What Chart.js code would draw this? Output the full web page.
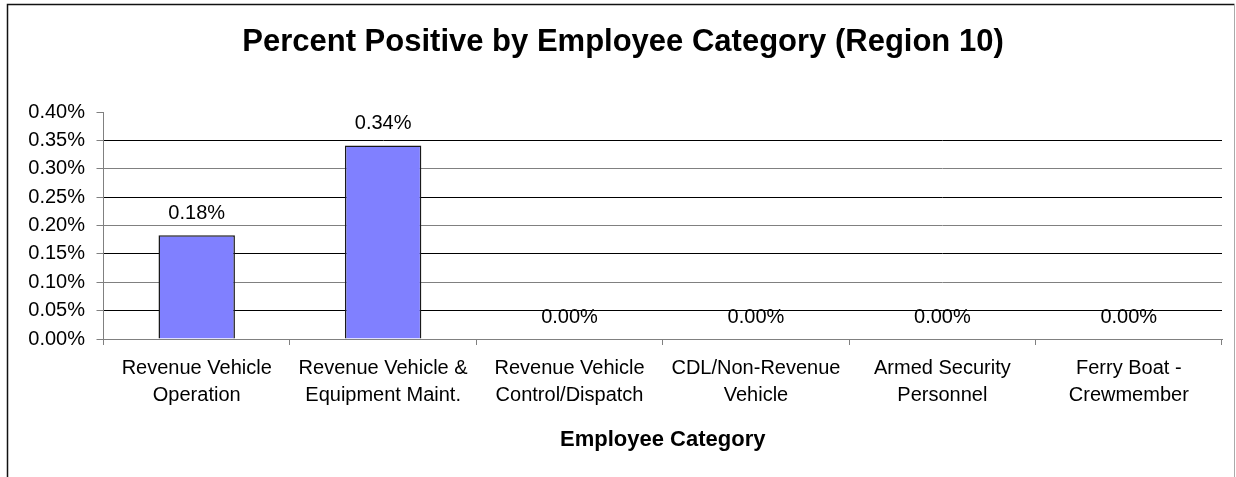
<!DOCTYPE html>
<html>
<head>
<meta charset="utf-8">
<script src="https://cdn.jsdelivr.net/npm/chart.js@4"></script>
<style>
  html, body { margin: 0; padding: 0; background: #fff; }
  #wrap { width: 1236px; height: 477px; }
</style>
</head>
<body>
<div id="wrap"><canvas id="chart" width="1236" height="477"></canvas></div>
<script>
// data
const categories = [
  ['Revenue Vehicle', 'Operation'],
  ['Revenue Vehicle &', 'Equipment Maint.'],
  ['Revenue Vehicle', 'Control/Dispatch'],
  ['CDL/Non-Revenue', 'Vehicle'],
  ['Armed Security', 'Personnel'],
  ['Ferry Boat -', 'Crewmember']
];
const percentPositive = [0.183, 0.341, 0, 0, 0, 0];
const valueLabels = ['0.18%', '0.34%', '0.00%', '0.00%', '0.00%', '0.00%'];
const chartTitle = 'Percent Positive by Employee Category (Region 10)';
const axisTitle = 'Employee Category';

const FONT = '"Liberation Sans", Arial, sans-serif';

// frame, title and value labels
const decorations = {
  id: 'decorations',
  beforeDraw(chart) {
    const c = chart.ctx;
    c.save();
    c.fillStyle = '#fff';
    c.fillRect(0, 0, chart.width, chart.height);
    c.restore();
  },
  afterDatasetsDraw(chart) {
    const c = chart.ctx;
    const meta = chart.getDatasetMeta(0);
    c.save();
    c.font = '20px ' + FONT;
    c.fillStyle = '#000';
    c.textAlign = 'center';
    c.textBaseline = 'middle';
    meta.data.forEach((bar, i) => {
      c.fillText(valueLabels[i], bar.x, bar.y - 22);
    });
    c.restore();
  },
  afterDraw(chart) {
    const c = chart.ctx;
    c.save();
    // outer frame (bottom edge is off the picture)
    c.lineWidth = 1.5;
    c.strokeStyle = '#111';
    c.beginPath();
    c.moveTo(7.5, 500);
    c.lineTo(7.5, 4.5);
    c.lineTo(1234.5, 4.5);
    c.stroke();
    c.strokeStyle = '#aaa';
    c.lineWidth = 1;
    c.beginPath();
    c.moveTo(1234.5, 4.5);
    c.lineTo(1234.5, 500);
    c.stroke();
    // chart title
    c.font = 'bold 31px ' + FONT;
    c.fillStyle = '#000';
    c.textAlign = 'center';
    c.textBaseline = 'middle';
    c.fillText(chartTitle, 623, 42);
    c.restore();
  }
};

new Chart(document.getElementById('chart'), {
  type: 'bar',
  data: {
    labels: categories,
    datasets: [{
      data: percentPositive,
      backgroundColor: '#8080ff',
      borderColor: '#1a1a1a',
      borderWidth: 1.5,
      categoryPercentage: 1,
      barPercentage: 0.41
    }]
  },
  options: {
    responsive: false,
    animation: false,
    devicePixelRatio: 1,
    layout: { padding: { top: 112, left: 0, right: 14, bottom: 0 } },
    plugins: {
      legend: { display: false },
      title: { display: false },
      tooltip: { enabled: false }
    },
    scales: {
      x: {
        afterFit: (scale) => { scale.height = 138; },
        ticks: {
          color: '#000',
          font: { family: FONT, size: 20, lineHeight: 1.35 },
          padding: 10,
          maxRotation: 0,
          autoSkip: false
        },
        grid: { offset: true, drawOnChartArea: false, tickLength: 6, color: '#808080' },
        border: { color: '#808080' },
        title: {
          display: true,
          text: axisTitle,
          color: '#000',
          font: { family: FONT, size: 22, weight: 'bold' },
          padding: { top: 0, bottom: 24 }
        }
      },
      y: {
        min: 0,
        max: 0.4,
        afterFit: (scale) => { scale.width = 103.5; },
        ticks: {
          stepSize: 0.05,
          color: '#000',
          font: { family: FONT, size: 20 },
          padding: 11.5,
          callback: (v) => v.toFixed(2) + '%'
        },
        grid: {
          tickLength: 7,
          tickColor: '#808080',
          color: (ctx) => {
            const i = Math.round(ctx.tick.value / 0.05);
            if (i >= 8) return 'rgba(0,0,0,0)';
            if (i === 0) return '#808080';
            return i % 2 ? '#000' : '#808080';
          }
        },
        border: { color: '#808080' }
      }
    }
  },
  plugins: [decorations]
});
</script>
</body>
</html>
